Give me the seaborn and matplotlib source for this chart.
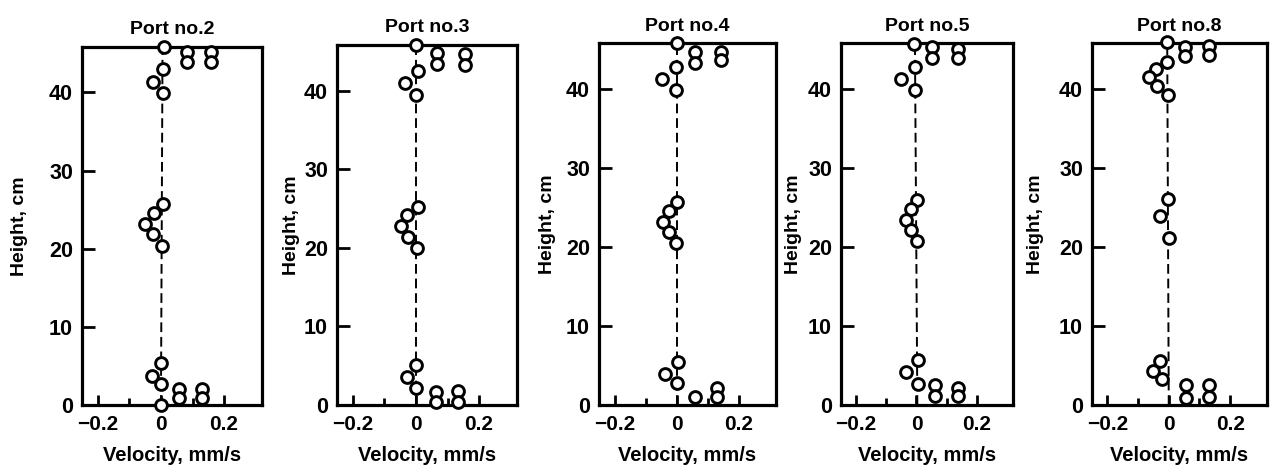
import matplotlib
matplotlib.use("Agg")
import matplotlib.pyplot as plt
import seaborn as sns
import pandas as pd
from matplotlib.ticker import FixedLocator

sns.set_style("ticks")
plt.rcParams['font.family'] = ['Liberation Sans', 'DejaVu Sans']
plt.rcParams['text.color'] = 'black'
plt.rcParams['axes.labelcolor'] = 'black'
plt.rcParams['xtick.color'] = 'black'
plt.rcParams['ytick.color'] = 'black'

# ---------------- data (velocity mm/s, height cm) ----------------
titles = ["Port no.2", "Port no.3", "Port no.4", "Port no.5", "Port no.8"]

p2_vel = [0.011, 0.082, 0.082, 0.16, 0.16, 0.006, -0.025, 0.006, 0.007, -0.022, -0.05, -0.025, 0.004,
          0.0, -0.028, 0.0, 0.058, 0.058, 0.13, 0.13, 0.0]
p2_hgt = [45.8, 45.1, 43.9, 45.1, 43.9, 43.0, 41.3, 39.9, 25.7, 24.6, 23.1, 21.9, 20.3,
          5.4, 3.7, 2.7, 2.1, 0.85, 2.1, 0.85, 0.0]

p3_vel = [0.0, 0.067, 0.067, 0.156, 0.156, 0.005, -0.035, 0.0, 0.005, -0.027, -0.048, -0.024, 0.003,
          0.0, -0.029, 0.0, 0.062, 0.062, 0.134, 0.134]
p3_hgt = [45.8, 44.8, 43.4, 44.6, 43.2, 42.5, 41.0, 39.4, 25.2, 24.2, 22.8, 21.4, 20.0,
          5.1, 3.5, 2.2, 1.6, 0.4, 1.8, 0.4]

p4_vel = [0.0, 0.059, 0.059, 0.143, 0.143, -0.002, -0.048, -0.002, 0.0, -0.025, -0.045, -0.025, -0.002,
          0.003, -0.038, 0.0, 0.059, 0.13, 0.13]
p4_hgt = [45.8, 44.7, 43.3, 44.7, 43.7, 42.8, 41.3, 39.8, 25.7, 24.5, 23.1, 21.9, 20.5,
          5.5, 3.9, 2.8, 1.0, 2.1, 1.0]

p5_vel = [-0.008, 0.052, 0.052, 0.137, 0.137, -0.005, -0.05, -0.005, 0.002, -0.018, -0.035, -0.018, 0.003,
          0.005, -0.035, 0.005, 0.06, 0.06, 0.137, 0.137]
p5_hgt = [45.7, 45.3, 43.9, 45.1, 43.9, 42.8, 41.3, 39.9, 25.9, 24.8, 23.4, 22.1, 20.8,
          5.7, 4.2, 2.7, 2.5, 1.2, 2.2, 1.1]

p8_vel = [-0.005, 0.054, 0.054, 0.132, 0.132, -0.006, -0.043, -0.063, -0.038, -0.003, -0.003, -0.027, 0.0,
          -0.028, -0.052, -0.023, 0.056, 0.056, 0.132, 0.132]
p8_hgt = [45.9, 45.3, 44.2, 45.4, 44.3, 43.4, 42.5, 41.5, 40.4, 39.2, 26.0, 23.9, 21.1,
          5.6, 4.3, 3.3, 2.5, 0.9, 2.5, 1.05]

# dashed reference profile (velocity at bottom and top)
line_vel = [[0.0, 0.005], [0.0, 0.0], [0.0, 0.0], [0.003, -0.005], [0.0, -0.005]]
line_hgt = [0.0, 45.8]

x_ticks = [-0.2, 0, 0.2]
x_tick_labels = ["\u22120.2", "0", "0.2"]
y_ticks = [0, 10, 20, 30, 40]

vels = [p2_vel, p3_vel, p4_vel, p5_vel, p8_vel]
hgts = [p2_hgt, p3_hgt, p4_hgt, p5_hgt, p8_hgt]

# ---------------- layout ----------------
W, H = 1270, 465
fig = plt.figure(figsize=(W / 100, H / 100), dpi=100)
panel_px = [(82, 262), (337, 517), (599, 776), (841, 1013), (1092, 1267)]
top_px = [47, 45, 43, 43, 43]
bottom_px = 405
ylabel_pads = [15, 3, 7, 4, 10.5]

fs = 14.5
for i, (x0, x1) in enumerate(panel_px):
    ax = fig.add_axes([x0 / W, 1 - bottom_px / H, (x1 - x0) / W, (bottom_px - top_px[i]) / H])
    df = pd.DataFrame({"vel": vels[i], "hgt": hgts[i]})
    ldf = pd.DataFrame({"vel": line_vel[i], "hgt": line_hgt})
    sns.lineplot(data=ldf, x="vel", y="hgt", ax=ax, color="black", linewidth=1.4,
                 dashes=False, linestyle=(0, (5, 2.5)), sort=False, estimator=None, zorder=2)
    sns.scatterplot(data=df, x="vel", y="hgt", ax=ax, marker="o", s=72,
                    facecolor="white", edgecolor="black", linewidth=2.1, zorder=3, clip_on=False)
    ax.set_xlim(-0.25, 0.32)
    ax.set_ylim(0, 45.8)
    ax.xaxis.set_major_locator(FixedLocator(x_ticks))
    ax.set_xticklabels(x_tick_labels)
    ax.xaxis.set_minor_locator(FixedLocator([-0.1, 0.1]))
    ax.yaxis.set_major_locator(FixedLocator(y_ticks))
    ax.tick_params(axis="x", which="major", direction="in", length=7, width=2, pad=7,
                   labelsize=15)
    ax.tick_params(axis="x", which="minor", direction="in", length=5, width=2)
    ax.tick_params(axis="y", which="major", direction="in", length=9.5, width=2, pad=6.5,
                   labelsize=15.5)
    for lab in ax.get_xticklabels() + ax.get_yticklabels():
        lab.set_fontweight("bold")
    for sp in ax.spines.values():
        sp.set_visible(True)
        sp.set_linewidth(2.3)
        sp.set_color("black")
    ax.set_xlabel("Velocity, mm/s", fontsize=fs, fontweight="bold", labelpad=9)
    ax.set_ylabel("Height, cm", fontsize=14, fontweight="bold", labelpad=ylabel_pads[i])
    ax.set_title(titles[i], fontsize=14, fontweight="bold", pad=9)

fig.savefig("out.png", dpi=100)
